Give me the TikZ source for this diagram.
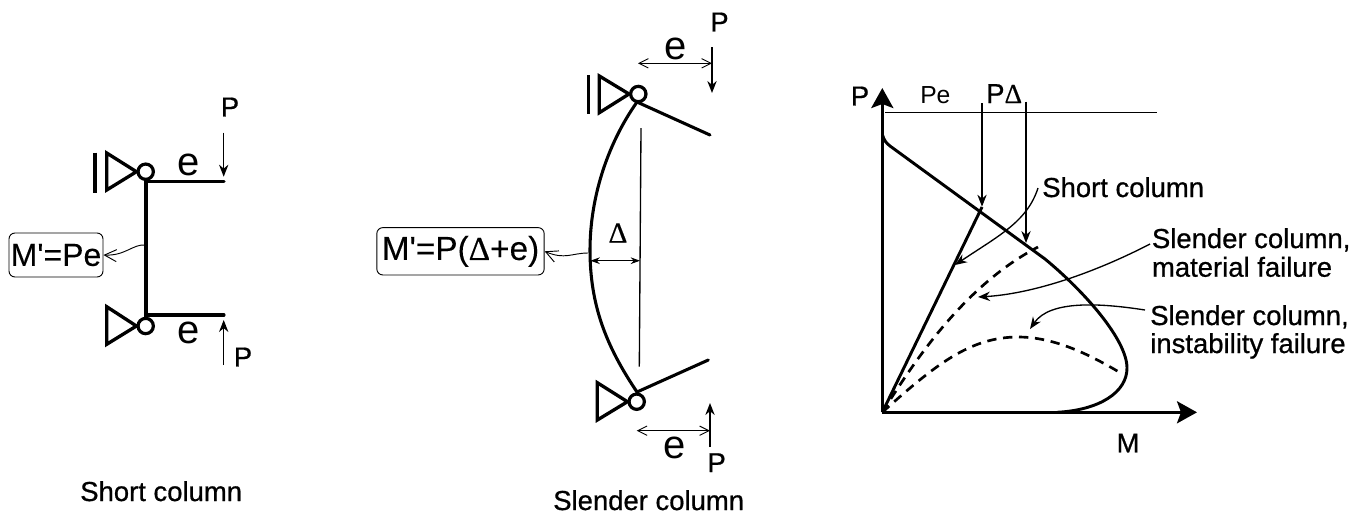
\documentclass[tikz,border=0pt]{standalone}
\usepackage{fontspec}
\setmainfont{Liberation Sans}
\newfontfamily\boldish[FakeBold=0.7]{Liberation Sans}
\newfontfamily\boxfont[FakeBold=0.2]{Liberation Sans}
\newfontfamily\deltafont[FakeBold=0.4]{Liberation Serif}
\newcommand{\dlt}{{\deltafont\char"0394}}
\usetikzlibrary{arrows.meta}
\tikzset{
  x=0.75pt,y=-0.75pt,
  heavy/.style={line width=2.3pt,line cap=round,line join=miter},
  fine/.style={line width=1pt},
  hair/.style={line width=0.7pt},
  hinge/.style={circle,draw,line width=2.4pt,minimum size=11.5pt,inner sep=0pt,fill=white},
  tri/.style={line width=2.5pt,line join=miter},
  lab/.style={inner sep=0pt,anchor=base west,font=\boldish\fontsize{20.6pt}{24pt}\selectfont},
  plab/.style={inner sep=0pt,anchor=center,font=\boldish\fontsize{20.5pt}{22pt}\selectfont},
  elab/.style={inner sep=0pt,anchor=center,font=\fontsize{30pt}{32pt}\selectfont},
  rbox/.style={draw,line width=0.7pt,rounded corners=4.5pt,inner sep=0pt,align=center},
  solidarrow/.style={fine,-{Stealth[length=9pt,width=7pt]}},
  axis/.style={line width=2.3pt,-{Stealth[length=15pt,width=16.5pt,inset=3pt]}},
  openarrow/.style={hair,-{Straight Barb[length=9pt,width=9pt,line width=0.7pt]}},
  dimarrow/.style={hair,{Straight Barb[length=7pt,width=7pt,line width=0.7pt]}-{Straight Barb[length=7pt,width=7pt,line width=0.7pt]}},
  dashcurve/.style={line width=2pt,dash pattern=on 7pt off 5pt},
}
\begin{document}
\begin{tikzpicture}
\useasboundingbox (0,0) rectangle (1362,519);
%% ---------- short column
\node[hinge] (sa) at (145.7,171.7) {};
\node[hinge] (sb) at (145.7,326) {};
\draw[tri] (106.7,153) -- (sa.west) -- (106.7,190) -- cycle;
\draw[tri] (106.7,306.7) -- (sb.west) -- (106.7,344.3) -- cycle;
\draw[line width=2.5pt] (95,152.7) -- (95,192.7);
\coordinate (sat) at (146,181.7);
\coordinate (sbt) at (146,315);
\coordinate (sae) at (224,181.7);
\coordinate (sbe) at (224,315);
\draw[heavy] (sae) -- (sat) -- (sbt) -- (sbe);
\coordinate (spa) at (223.7,132.7);
\coordinate (spb) at (223.7,176.7);
\coordinate (spc) at (223.7,365);
\coordinate (spd) at (223.7,320);
\draw[solidarrow] (spa) -- (spb);
\draw[solidarrow] (spc) -- (spd);
\node[plab] (pa) at (230,107) {P};
\node[plab] (pb) at (243,357) {P};
\node[elab] (ea) at (189,165) {e};
\node[elab] (eb) at (189,333) {e};
\node[rbox,minimum width=70.5pt,minimum height=33pt] (bs) at (56,255) {\boxfont\fontsize{24pt}{26pt}\selectfont M'=Pe};
\coordinate (sm) at (145,245);
\draw[openarrow] (sm) .. controls (133,244) and (125,256) .. (bs.east);
\node[lab] (ls) at (80,501) {Short column};
%% ---------- slender column
\node[hinge] (la) at (638.3,94) {};
\node[hinge] (lb) at (636.7,401.7) {};
\draw[tri] (599.3,76) -- (la.west) -- (599.3,112.7) -- cycle;
\draw[tri] (597.3,382.7) -- (lb.west) -- (597.3,420) -- cycle;
\draw[line width=2.5pt] (588.3,75) -- (588.3,114);
\coordinate (lac) at (637,102);
\coordinate (lae) at (710,135);
\coordinate (lbc) at (637,392);
\coordinate (lbe) at (708.3,360);
\draw[heavy] (lac) -- (lae);
\draw[heavy] (lbc) -- (lbe);
\draw[heavy] (lac) .. controls (606,146) and (590,200) .. (590,250)
   .. controls (590,305) and (606,346) .. (lbc);
\coordinate (ta) at (641,128);
\coordinate (tb) at (639.3,366.7);
\draw[fine] (ta) -- (tb);
\coordinate (da) at (590.5,260.7);
\coordinate (db) at (640,260.7);
\draw[hair,{Stealth[length=7pt,width=5pt]}-{Stealth[length=7pt,width=5pt]}] (da) -- (db);
\node[inner sep=0pt,font=\fontsize{22pt}{24pt}\selectfont] (dl) at (618,233) {\dlt};
\node[rbox,minimum width=125.5pt,minimum height=35.5pt] (bl) at (460.5,251.3) {\boxfont\fontsize{25pt}{27pt}\selectfont M'=P(\dlt+e)};
\coordinate (lm) at (588,253);
\draw[openarrow] (lm) .. controls (572,253) and (565,260) .. (bl.east);
\coordinate (ga) at (638,63.3);
\coordinate (gb) at (712,63.3);
\coordinate (gc) at (636.7,430.7);
\coordinate (gd) at (710,430.7);
\draw[dimarrow] (ga) -- (gb);
\draw[dimarrow] (gc) -- (gd);
\coordinate (qa) at (712,47);
\coordinate (qb) at (712,93);
\coordinate (qc) at (710,447);
\coordinate (qd) at (710,403);
\draw[solidarrow] (qa) -- (qb);
\draw[solidarrow] (qc) -- (qd);
\node[plab] (pc) at (719.5,22) {P};
\node[plab] (pd) at (716.7,462.7) {P};
\node[elab] (ec) at (676,49) {e};
\node[elab] (ed) at (675,448) {e};
\node[lab] (ll) at (553,510) {Slender column};
%% ---------- interaction diagram
\coordinate (o) at (882.3,412.3);
\coordinate (yt) at (882.3,88);
\coordinate (xt) at (1197,412.3);
\draw[axis] (o) -- (yt);
\draw[axis] (o) -- (xt);
\coordinate (ha) at (885,112.7);
\coordinate (hb) at (1157,112.7);
\draw[fine] (ha) -- (hb);
\coordinate (va) at (982,103);
\coordinate (vb) at (982,206.7);
\coordinate (vc) at (1026,101.7);
\coordinate (vd) at (1026,243);
\draw[solidarrow] (va) -- (vb);
\draw[solidarrow] (vc) -- (vd);
\coordinate (cs) at (882.5,135);
\coordinate (cb) at (1057,412.3);
\draw[line width=2.2pt] (cs) .. controls (884,140) and (886,143) .. (890,146) -- (1045,259)
   .. controls (1085,292) and (1127,340) .. (1127,368)
   .. controls (1127,392) and (1100,410) .. (cb);
\coordinate (sp) at (982,207);
\draw[line width=2.2pt] (o) -- (sp);
\coordinate (me) at (1038,247);
\draw[dashcurve] (o) .. controls (915,360) and (965,285) .. (me);
\coordinate (ie) at (1119,372);
\draw[dashcurve] (o) .. controls (935,365) and (970,337) .. (1018,337)
  .. controls (1055,337) and (1090,355) .. (ie);
\node[lab] (t1) at (1042,197) {Short column};
\node[lab] (t2) at (1151.7,248) {Slender column,};
\node[lab] (t3) at (1151.7,276.7) {material failure};
\node[lab] (t4) at (1150,325) {Slender column,};
\node[lab] (t5) at (1150,353) {instability failure};
\coordinate (a1) at (1038,188);
\coordinate (a1e) at (955,265);
\coordinate (a2) at (1150,244);
\coordinate (a2e) at (978,297);
\coordinate (a3) at (1145,310);
\coordinate (a3e) at (1030,329);
\draw[solidarrow] (a1) .. controls (1027,222) and (998,236) .. (a1e);
\draw[solidarrow] (a2) .. controls (1090,275) and (1030,294) .. (a2e);
\draw[solidarrow] (a3) .. controls (1100,303) and (1050,300) .. (a3e);
\node[plab] (p1) at (860,96) {P};
\node[plab] (p2) at (1128,443) {M};
\node[lab,font=\fontsize{18.5pt}{22pt}\selectfont] (p3) at (920,103.5) {Pe};
\node[lab,font=\boldish\fontsize{20.5pt}{22pt}\selectfont] (p4) at (986,103) {P\dlt};
\end{tikzpicture}
\end{document}
